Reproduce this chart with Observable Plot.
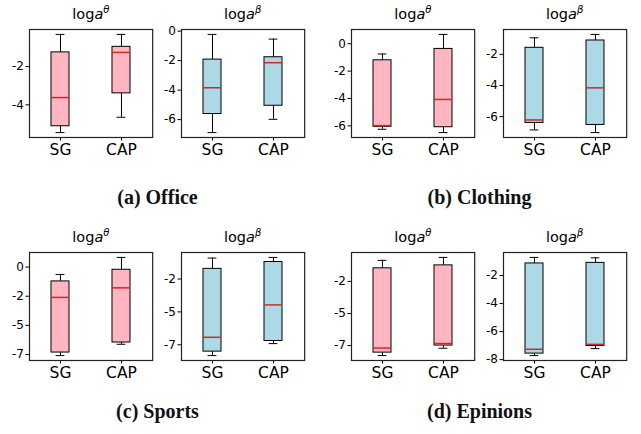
<!DOCTYPE html>
<html><head><meta charset="utf-8">
<script src="https://cdn.jsdelivr.net/npm/d3@7"></script>
<script src="https://cdn.jsdelivr.net/npm/@observablehq/plot@0.6"></script>
<style>
body{margin:0;background:#fff;}
#wrap{position:relative;width:641px;height:434px;overflow:hidden;background:#fff;}
.ttl{position:absolute;font-family:"DejaVu Sans";font-size:14.5px;line-height:14px;color:#000;text-align:center;white-space:nowrap;width:140px;}
.ttl .sup{position:relative;top:-6px;font-size:10px;font-style:italic;}
.cap{position:absolute;font-family:"Liberation Serif";font-weight:bold;font-size:20px;line-height:20px;color:#111;text-align:center;white-space:nowrap;width:200px;}
.sub{position:absolute;}
</style></head>
<body><div id="wrap"></div>
<script>
// ---- data: each row = [whiskerLow, Q1, median, Q3, whiskerHigh] ----
const methods = ["SG", "CAP"];
const captions = ["(a) Office", "(b) Clothing", "(c) Sports", "(d) Epinions"];
const paramSymbols = ["θ", "β"];

const officeThetaSG  = [-5.45, -5.12, -3.62, -1.26, -0.32];
const officeThetaCAP = [-4.65, -3.40, -1.26, -0.97, -0.32];
const officeBetaSG   = [-6.88, -5.62, -3.84, -1.93, -0.22];
const officeBetaCAP  = [-5.98, -5.06, -2.14, -1.77, -0.54];

const clothingThetaSG  = [-6.25, -6.07, -5.98, -1.21, -0.75];
const clothingThetaCAP = [-6.49, -6.10, -4.07, -0.38, 0.68];
const clothingBetaSG   = [-6.85, -6.40, -6.21, -1.58, -0.94];
const clothingBetaCAP  = [-7.02, -6.53, -4.15, -1.11, -0.72];

const sportsThetaSG  = [-7.59, -7.33, -2.60, -1.23, -0.63];
const sportsThetaCAP = [-6.62, -6.47, -1.78, -0.23, 0.83];
const sportsBetaSG   = [-8.32, -8.02, -6.93, -1.73, -0.91];
const sportsBetaCAP  = [-7.41, -7.21, -4.47, -1.21, -0.86];

const epinionsThetaSG  = [-8.28, -8.05, -7.69, -1.48, -0.86];
const epinionsThetaCAP = [-7.71, -7.50, -7.34, -1.25, -0.63];
const epinionsBetaSG   = [-7.71, -7.57, -7.26, -1.14, -0.71];
const epinionsBetaCAP  = [-7.21, -7.03, -6.91, -1.10, -0.74];

// ---- tick values and their printed labels ----
const officeThetaTicks = [-2, -4];            const officeThetaLabels = ["-2", "-4"];
const officeBetaTicks = [0, -2, -4, -6];      const officeBetaLabels = ["0", "-2", "-4", "-6"];
const clothingThetaTicks = [0, -2, -4, -6];   const clothingThetaLabels = ["0", "-2", "-4", "-6"];
const clothingBetaTicks = [-2, -4, -6];       const clothingBetaLabels = ["-2", "-4", "-6"];
const sportsThetaTicks = [0, -2.5, -5, -7.5]; const sportsThetaLabels = ["0", "-2", "-5", "-7"];
const sportsBetaTicks = [-2.5, -5, -7.5];     const sportsBetaLabels = ["-2", "-5", "-7"];
const epinionsThetaTicks = [-2.5, -5, -7.5];  const epinionsThetaLabels = ["-2", "-5", "-7"];
const epinionsBetaTicks = [-2, -4, -6, -8];   const epinionsBetaLabels = ["-2", "-4", "-6", "-8"];

// ---- layout ----
const colors = ["#ffb6c1", "#add8e6"];
const panelOriginsX = [0, 322];
const panelOriginsY = [0, 223];
const captionTops = [187, 401];
const frameLeftInPanel = [29.3, 181];
const frameW = 123.2;
const frameTopInPanel = 29.3;
const frameH = 108;

const subplots = [
  {panel: 0, p: 0, sg: officeThetaSG, cap: officeThetaCAP, ticks: officeThetaTicks, labels: officeThetaLabels},
  {panel: 0, p: 1, sg: officeBetaSG, cap: officeBetaCAP, ticks: officeBetaTicks, labels: officeBetaLabels},
  {panel: 1, p: 0, sg: clothingThetaSG, cap: clothingThetaCAP, ticks: clothingThetaTicks, labels: clothingThetaLabels},
  {panel: 1, p: 1, sg: clothingBetaSG, cap: clothingBetaCAP, ticks: clothingBetaTicks, labels: clothingBetaLabels},
  {panel: 2, p: 0, sg: sportsThetaSG, cap: sportsThetaCAP, ticks: sportsThetaTicks, labels: sportsThetaLabels},
  {panel: 2, p: 1, sg: sportsBetaSG, cap: sportsBetaCAP, ticks: sportsBetaTicks, labels: sportsBetaLabels},
  {panel: 3, p: 0, sg: epinionsThetaSG, cap: epinionsThetaCAP, ticks: epinionsThetaTicks, labels: epinionsThetaLabels},
  {panel: 3, p: 1, sg: epinionsBetaSG, cap: epinionsBetaCAP, ticks: epinionsBetaTicks, labels: epinionsBetaLabels}
];

const wrap = document.getElementById("wrap");
const mL = 32, mR = 4, mT = 4, mB = 26;

for (const s of subplots) {
  const px = panelOriginsX[s.panel % 2];
  const py = panelOriginsY[Math.floor(s.panel / 2)];
  const fl = px + frameLeftInPanel[s.p];
  const ft = py + frameTopInPanel;
  const rows = [s.sg, s.cap].map((v, i) => ({method: methods[i], lo: v[0], q1: v[1], med: v[2], q3: v[3], hi: v[4]}));
  const all = [...s.sg, ...s.cap];
  const mn = d3.min(all), mx = d3.max(all), pad = (mx - mn) * 0.05;
  const labelMap = new Map(s.ticks.map((t, i) => [t, s.labels[i]]));
  const inset = frameW * 0.15 / 4;

  const chart = Plot.plot({
    width: frameW + mL + mR,
    height: frameH + mT + mB,
    marginLeft: mL, marginRight: mR, marginTop: mT, marginBottom: mB,
    style: {fontFamily: "DejaVu Sans", color: "#000", background: "transparent", overflow: "visible"},
    x: {domain: methods, paddingInner: 0.7, paddingOuter: 0.35, axis: null},
    y: {domain: [mn - pad, mx + pad], axis: null},
    marks: [
      Plot.axisY({ticks: s.ticks, tickFormat: d => labelMap.get(d), tickSize: 3.5, tickPadding: 2, fontSize: 12, label: null, stroke: "#000"}),
      Plot.axisX({tickSize: 3.5, tickPadding: 3, fontSize: 15.5, label: null, stroke: "#000"}),
      Plot.ruleX(rows, {x: "method", y1: "lo", y2: "q1", stroke: "#000", strokeWidth: 1}),
      Plot.ruleX(rows, {x: "method", y1: "q3", y2: "hi", stroke: "#000", strokeWidth: 1}),
      Plot.tickY(rows, {x: "method", y: "lo", stroke: "#000", strokeWidth: 1, insetLeft: inset, insetRight: inset}),
      Plot.tickY(rows, {x: "method", y: "hi", stroke: "#000", strokeWidth: 1, insetLeft: inset, insetRight: inset}),
      Plot.barY(rows, {x: "method", y1: "q1", y2: "q3", fill: colors[s.p], stroke: "#000", strokeWidth: 1}),
      Plot.tickY(rows, {x: "method", y: "med", stroke: "#d62728", strokeWidth: 1.5}),
      Plot.frame({stroke: "#222", strokeWidth: 1.2})
    ]
  });
  const holder = document.createElement("div");
  holder.className = "sub";
  holder.style.left = (fl - mL) + "px";
  holder.style.top = (ft - mT) + "px";
  holder.appendChild(chart);
  wrap.appendChild(holder);

  const t = document.createElement("div");
  t.className = "ttl";
  t.innerHTML = 'log<i>a</i><span class="sup">' + paramSymbols[s.p] + '</span>';
  t.style.left = (fl + frameW / 2 - 70) + "px";
  t.style.top = (ft - 22) + "px";
  wrap.appendChild(t);
}

captions.forEach((c, i) => {
  const d = document.createElement("div");
  d.className = "cap";
  d.textContent = c;
  const px = panelOriginsX[i % 2];
  d.style.left = (px + 157.5 - 100) + "px";
  d.style.top = captionTops[Math.floor(i / 2)] + "px";
  wrap.appendChild(d);
});
</script>
</body></html>
